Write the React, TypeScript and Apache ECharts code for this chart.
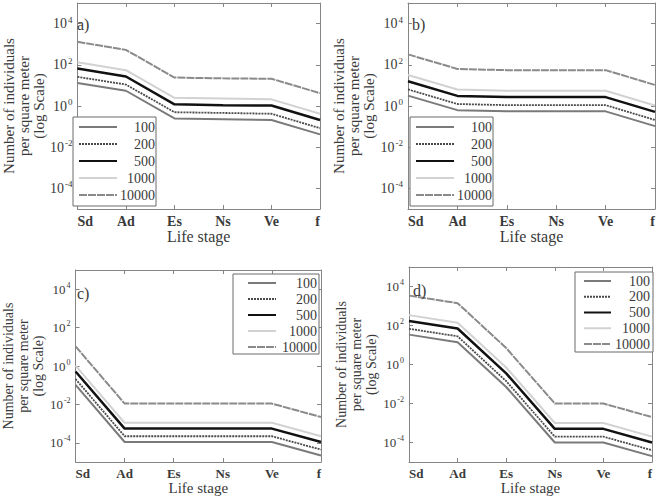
import React, { useEffect, useRef } from 'react';
import * as echarts from 'echarts';

const stages = ['Sd', 'Ad', 'Es', 'Ns', 'Ve', 'f'];
const seriesNames = ['100', '200', '500', '1000', '10000'];
const yTickValues = [1e-4, 1e-2, 1, 1e2, 1e4];
const panelLabels = ['a)', 'b)', 'c)', 'd)'];
const yTitleLines = ['Number of individuals', 'per square meter', '(log Scale)'];
const xTitle = 'Life stage';

// panel a
const a100 = [13, 5.5, 0.25, 0.23, 0.21, 0.042];
const a200 = [26, 11, 0.5, 0.46, 0.42, 0.084];
const a500 = [66, 27, 1.2, 1.1, 1.05, 0.21];
const a1000 = [132, 55, 2.5, 2.3, 2.1, 0.42];
const a10000 = [1300, 530, 24, 22, 21, 4.2];
// panel b
const b100 = [3.2, 0.63, 0.55, 0.55, 0.55, 0.105];
const b200 = [6.4, 1.25, 1.1, 1.1, 1.1, 0.21];
const b500 = [16, 3.1, 2.7, 2.7, 2.7, 0.52];
const b1000 = [32, 6.3, 5.5, 5.5, 5.5, 1.05];
const b10000 = [320, 63, 55, 55, 55, 10.5];
// panel c
const c100 = [0.105, 1.1e-4, 1.1e-4, 1.1e-4, 1.1e-4, 2.2e-5];
const c200 = [0.21, 2.2e-4, 2.2e-4, 2.2e-4, 2.2e-4, 4.4e-5];
const c500 = [0.52, 5.5e-4, 5.5e-4, 5.5e-4, 5.5e-4, 1.1e-4];
const c1000 = [1.05, 1.1e-3, 1.1e-3, 1.1e-3, 1.1e-3, 2.2e-4];
const c10000 = [10.5, 0.011, 0.011, 0.011, 0.011, 2.2e-3];
// panel d
const d100 = [34, 14, 0.07, 1e-4, 1e-4, 2e-5];
const d200 = [68, 28, 0.14, 2e-4, 2e-4, 4e-5];
const d500 = [170, 70, 0.35, 5e-4, 5e-4, 1e-4];
const d1000 = [340, 140, 0.7, 1e-3, 1e-3, 2e-4];
const d10000 = [3400, 1400, 7, 0.01, 0.01, 2e-3];

const panels = [
  [a100, a200, a500, a1000, a10000],
  [b100, b200, b500, b1000, b10000],
  [c100, c200, c500, c1000, c10000],
  [d100, d200, d500, d1000, d10000],
];

const FONT = "'Liberation Serif', 'DejaVu Serif', serif";
const AXIS_COLOR = '#858585';
const TEXT_COLOR = '#3a3a3a';

const lineStyles: any[] = [
  { color: '#7a7a7a', width: 2, type: 'solid' },
  { color: '#4a4a4a', width: 1.8, type: [2, 1] },
  { color: '#111111', width: 2.5, type: 'solid' },
  { color: '#d2d2d2', width: 2, type: 'solid' },
  { color: '#8a8a8a', width: 2, type: [8, 1] },
];

const grids = [
  { left: 73, top: 3, width: 247, height: 206 },
  { left: 408, top: 3, width: 247, height: 206 },
  { left: 73, top: 270, width: 248, height: 192 },
  { left: 409, top: 267, width: 243, height: 195 },
];

const fontSizes = [14, 14, 13, 13];

const legendBoxes = [
  { left: 73, top: 117, padding: [3, 1, 4, 5], itemWidth: 38, itemHeight: 12, itemGap: 3, textW: 33, fs: 14 },
  { left: 410, top: 117, padding: [3, 1, 4, 5], itemWidth: 38, itemHeight: 12, itemGap: 3, textW: 33, fs: 14 },
  { left: 233, top: 274, padding: [2, 2, 0, 14], itemWidth: 28, itemHeight: 12, itemGap: 2, textW: 36, fs: 14 },
  { left: 575, top: 272, padding: [2, 3, 1, 8], itemWidth: 27, itemHeight: 12, itemGap: 1.75, textW: 34, fs: 14 },
];

function yLabelFormatter(v: number) {
  const e = Math.round(Math.log10(v));
  return '{b|10}{s|' + e + '}';
}

export default function App() {
  const ref = useRef<HTMLDivElement>(null);
  useEffect(() => {
    if (!ref.current) return;
    const chart = echarts.init(ref.current, null, { renderer: 'svg' });
    const xAxes: any[] = [];
    const yAxes: any[] = [];
    const series: any[] = [];
    const legends: any[] = [];
    const graphics: any[] = [];

    grids.forEach((g, i) => {
      const fs = fontSizes[i];
      xAxes.push({
        type: 'category',
        gridIndex: i,
        data: stages,
        boundaryGap: false,
        position: 'bottom',
        axisLine: { show: true, lineStyle: { color: AXIS_COLOR, width: 1 } },
        axisTick: { show: true, inside: true, length: 4, lineStyle: { color: AXIS_COLOR } },
        axisLabel: {
          show: true,
          margin: 5,
          fontFamily: FONT,
          fontWeight: 'bold',
          fontSize: fs,
          color: TEXT_COLOR,
          alignMinLabel: 'left',
          alignMaxLabel: 'right',
        },
        splitLine: { show: false },
        name: '{n|' + xTitle + '}',
        nameLocation: 'middle',
        nameGap: i < 2 ? 17 : 15,
        nameTextStyle: {
          fontFamily: FONT,
          fontSize: fs + 2,
          color: TEXT_COLOR,
          rich: { n: { fontFamily: FONT, fontSize: fs + 2, color: TEXT_COLOR } },
        },
      });
      yAxes.push({
        type: 'log',
        logBase: 10,
        gridIndex: i,
        min: 1e-5,
        max: 1e5,
        position: 'left',
        axisLine: { show: true, lineStyle: { color: AXIS_COLOR, width: 1 } },
        axisTick: { show: true, inside: true, length: 4, customValues: yTickValues, lineStyle: { color: AXIS_COLOR } },
        axisLabel: {
          show: true,
          margin: 5,
          customValues: yTickValues,
          formatter: yLabelFormatter,
          rich: {
            b: { fontFamily: FONT, fontSize: fs, color: TEXT_COLOR },
            s: { fontFamily: FONT, fontSize: Math.round(fs * 0.62), color: TEXT_COLOR, padding: [0, 0, 8, 1] },
          },
        },
        splitLine: { show: false },
        name: yTitleLines.map((l) => '{n|' + l + '}').join('\n'),
        nameLocation: 'middle',
        nameGap: 24,
        nameTextStyle: {
          fontFamily: FONT,
          fontSize: fs + 1,
          lineHeight: 15,
          color: TEXT_COLOR,
          rich: { n: { fontFamily: FONT, fontSize: fs + 1, lineHeight: 15, color: TEXT_COLOR } },
        },
      });
      panels[i].forEach((vals, k) => {
        series.push({
          type: 'line',
          name: seriesNames[k],
          xAxisIndex: i,
          yAxisIndex: i,
          data: vals,
          symbol: 'none',
          showSymbol: false,
          lineStyle: lineStyles[k],
          itemStyle: { color: lineStyles[k].color },
          z: 2,
        });
      });
      const lb = legendBoxes[i];
      legends.push({
        show: true,
        orient: 'vertical',
        left: lb.left,
        top: lb.top,
        padding: lb.padding,
        itemWidth: lb.itemWidth,
        itemHeight: lb.itemHeight,
        itemGap: lb.itemGap,
        borderColor: '#6a6a6a',
        borderWidth: 1,
        borderRadius: 0,
        backgroundColor: '#ffffff',
        selectedMode: false,
        data: seriesNames,
        itemStyle: { opacity: 0, borderWidth: 0 },
        formatter: (n: string) => '{t|' + n + '}',
        textStyle: {
          fontFamily: FONT,
          fontSize: lb.fs,
          color: TEXT_COLOR,
          rich: { t: { width: lb.textW, align: 'right', fontFamily: FONT, fontSize: lb.fs, color: TEXT_COLOR } },
        },
        z: 10,
      });
      graphics.push({
        type: 'text',
        left: g.left + 4,
        top: g.top + (i < 2 ? 13 : 15),
        style: {
          text: '{p|' + panelLabels[i] + '}',
          rich: { p: { fontFamily: FONT, fontSize: 16, fill: TEXT_COLOR } },
          fontFamily: FONT,
          fontSize: 16,
          fill: TEXT_COLOR,
        },
        z: 5,
      });
    });

    // mirrored top / right axes (box)
    grids.forEach((g, i) => {
      xAxes.push({
        type: 'category',
        gridIndex: i,
        data: stages,
        boundaryGap: false,
        position: 'top',
        axisLine: { show: true, lineStyle: { color: AXIS_COLOR, width: 1 } },
        axisTick: { show: true, inside: true, length: 4, lineStyle: { color: AXIS_COLOR } },
        axisLabel: { show: false },
        splitLine: { show: false },
      });
      yAxes.push({
        type: 'log',
        logBase: 10,
        gridIndex: i,
        min: 1e-5,
        max: 1e5,
        position: 'right',
        axisLine: { show: true, lineStyle: { color: AXIS_COLOR, width: 1 } },
        axisTick: { show: true, inside: true, length: 4, customValues: yTickValues, lineStyle: { color: AXIS_COLOR } },
        axisLabel: { show: false, customValues: yTickValues },
        splitLine: { show: false },
      });
    });

    chart.setOption({
      animation: false,
      backgroundColor: '#ffffff',
      textStyle: { fontFamily: FONT },
      grid: grids.map((g) => ({ ...g, containLabel: false })),
      xAxis: xAxes,
      yAxis: yAxes,
      legend: legends,
      series,
      graphic: graphics,
    });
    return () => chart.dispose();
  }, []);
  return <div ref={ref} style={{ position: 'absolute', left: 0, top: 0, width: 660, height: 498 }} />;
}
